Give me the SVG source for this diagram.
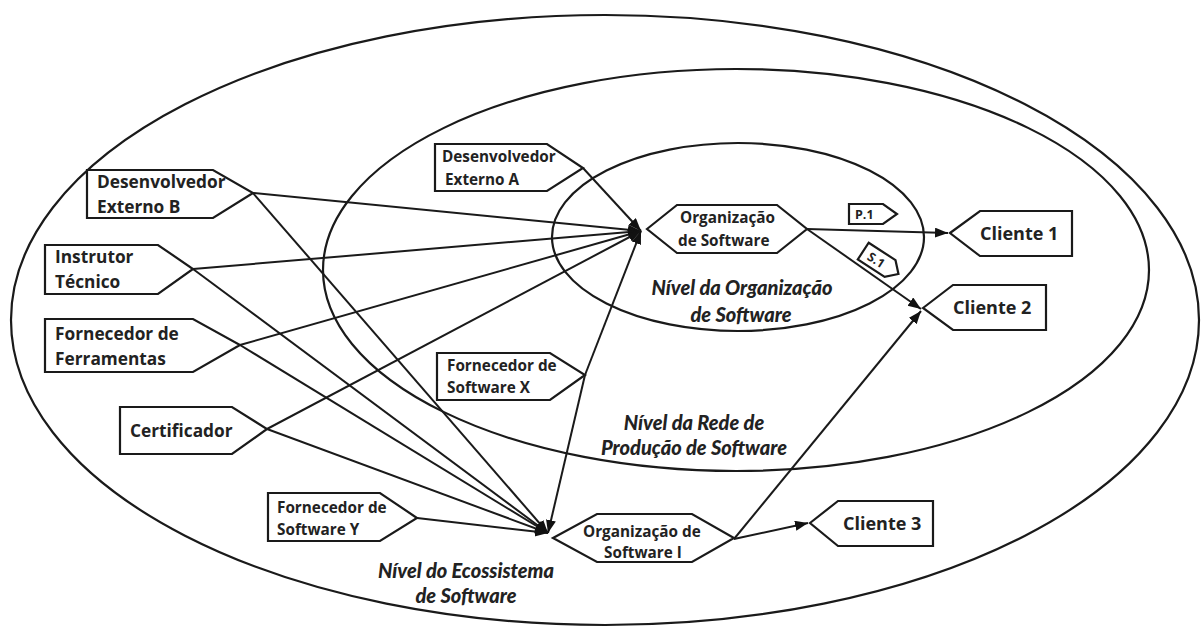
<svg xmlns="http://www.w3.org/2000/svg" width="1203" height="628" viewBox="0 0 1203 628">
  <style>
    .ring { fill: none; stroke: #1a1a1a; stroke-width: 2.2; }
    .shape { fill: #ffffff; stroke: #1a1a1a; stroke-width: 2.2; stroke-linejoin: miter; }
    .link { fill: none; stroke: #1a1a1a; stroke-width: 2; }
    .t { font-family: "Open Sans", "Liberation Sans", sans-serif; font-weight: bold; fill: #222222; }
    .big { font-size: 17.3px; }
    .client { font-size: 18px; }
    .small { font-size: 15.3px; }
    .tag { font-size: 12.5px; }
    .level { font-family: "Lato", "Liberation Sans", sans-serif; font-weight: 900; font-style: italic; font-size: 20px; fill: #222222; text-anchor: middle; }
  </style>
  <defs>
    <marker id="arrow" markerUnits="userSpaceOnUse" markerWidth="14" markerHeight="12" refX="13" refY="5" orient="auto">
      <path d="M0,0 L13,5 L0,10 Z" fill="#111111"/>
    </marker>
  </defs>
  <rect width="1203" height="628" fill="#ffffff"/>

  <!-- nested levels -->
  <g id="levels">
    <ellipse class="ring" cx="605" cy="320" rx="594" ry="305"/>
    <ellipse class="ring" cx="736" cy="270" rx="413" ry="201"/>
    <ellipse class="ring" cx="738" cy="237" rx="186" ry="94"/>
    <text class="level" x="742" y="295">Nível da Organização</text>
    <text class="level" x="741" y="322">de Software</text>
    <text class="level" x="694" y="430">Nível da Rede de</text>
    <text class="level" x="694" y="455">Produção de Software</text>
    <text class="level" x="466" y="578">Nível do Ecossistema</text>
    <text class="level" x="466" y="603">de Software</text>
  </g>

  <!-- connectors -->
  <g id="connectors">
    <line class="link" x1="253" y1="193" x2="641" y2="231" marker-end="url(#arrow)"/>
    <line class="link" x1="193" y1="269" x2="641" y2="231" marker-end="url(#arrow)"/>
    <line class="link" x1="240" y1="345" x2="641" y2="231" marker-end="url(#arrow)"/>
    <line class="link" x1="267" y1="429" x2="641" y2="231" marker-end="url(#arrow)"/>
    <line class="link" x1="583" y1="168" x2="641" y2="231" marker-end="url(#arrow)"/>
    <line class="link" x1="585" y1="375" x2="641" y2="231" marker-end="url(#arrow)"/>

    <line class="link" x1="253" y1="193" x2="548" y2="533" marker-end="url(#arrow)"/>
    <line class="link" x1="193" y1="269" x2="548" y2="533" marker-end="url(#arrow)"/>
    <line class="link" x1="240" y1="345" x2="548" y2="533" marker-end="url(#arrow)"/>
    <line class="link" x1="267" y1="429" x2="548" y2="533" marker-end="url(#arrow)"/>
    <line class="link" x1="417" y1="518" x2="548" y2="533" marker-end="url(#arrow)"/>
    <line class="link" x1="585" y1="375" x2="548" y2="533" marker-end="url(#arrow)"/>

    <line class="link" x1="807" y1="229" x2="948" y2="233" marker-end="url(#arrow)"/>
    <line class="link" x1="807" y1="229" x2="921" y2="309" marker-end="url(#arrow)"/>
    <line class="link" x1="734" y1="539" x2="921" y2="311" marker-end="url(#arrow)"/>
    <line class="link" x1="734" y1="539" x2="808" y2="523" marker-end="url(#arrow)"/>
  </g>

  <g id="dev-b">
    <polygon class="shape" points="87,170 213,170 253,193 213,218 87,218"/>
    <text class="t big" x="97" y="188">Desenvolvedor</text>
    <text class="t big" x="97" y="213">Externo B</text>
  </g>
  <g id="instrutor">
    <polygon class="shape" points="45,245 158,245 193,269 158,294 45,294"/>
    <text class="t big" x="55" y="263">Instrutor</text>
    <text class="t big" x="55" y="288">Técnico</text>
  </g>
  <g id="ferramentas">
    <polygon class="shape" points="45,319 193,319 240,345 193,372 45,372"/>
    <text class="t big" x="55" y="340">Fornecedor de</text>
    <text class="t big" x="55" y="365">Ferramentas</text>
  </g>
  <g id="certificador">
    <polygon class="shape" points="120,407 232,407 267,429 232,454 120,454"/>
    <text class="t big" x="130" y="437">Certificador</text>
  </g>
  <g id="dev-a">
    <polygon class="shape" points="435,144 547,144 583,168 547,191 435,191"/>
    <text class="t small" x="442" y="162">Desenvolvedor</text>
    <text class="t small" x="445" y="185">Externo A</text>
  </g>
  <g id="forn-x">
    <polygon class="shape" points="437,353 550,353 585,375 550,400 437,400"/>
    <text class="t small" x="447" y="371">Fornecedor de</text>
    <text class="t small" x="447" y="393">Software X</text>
  </g>
  <g id="forn-y">
    <polygon class="shape" points="268,493 380,493 417,518 380,541 268,541"/>
    <text class="t small" x="277" y="513">Fornecedor de</text>
    <text class="t small" x="277" y="535">Software Y</text>
  </g>
  <g id="org">
    <polygon class="shape" points="647,229 677,205 777,205 807,229 777,253 677,253"/>
    <text class="t small" x="680" y="223">Organização</text>
    <text class="t small" x="678" y="246">de Software</text>
  </g>
  <g id="org-i">
    <polygon class="shape" points="553,538 597,514 692,514 734,538 692,562 597,562"/>
    <text class="t small" x="583" y="537">Organização de</text>
    <text class="t small" x="604" y="558">Software I</text>
  </g>
  <g id="tag-p1">
    <polygon class="shape" points="849,204 883,204 897,214 883,224 849,224"/>
    <text class="t tag" x="855" y="219">P.1</text>
  </g>
  <g id="tag-s1" transform="translate(880,262) rotate(33)">
    <polygon class="shape" points="-20,-10 12,-10 22,0 12,10 -20,10"/>
    <text class="t tag" x="-13" y="5">S.1</text>
  </g>
  <g id="cliente-1">
    <polygon class="shape" points="950,233 980,211 1072,211 1072,256 980,256"/>
    <text class="t client" x="980" y="240">Cliente 1</text>
  </g>
  <g id="cliente-2">
    <polygon class="shape" points="923,308 953,285 1046,285 1046,330 953,330"/>
    <text class="t client" x="953" y="314">Cliente 2</text>
  </g>
  <g id="cliente-3">
    <polygon class="shape" points="810,523 838,501 933,501 933,546 838,546"/>
    <text class="t client" x="843" y="530">Cliente 3</text>
  </g>
</svg>
